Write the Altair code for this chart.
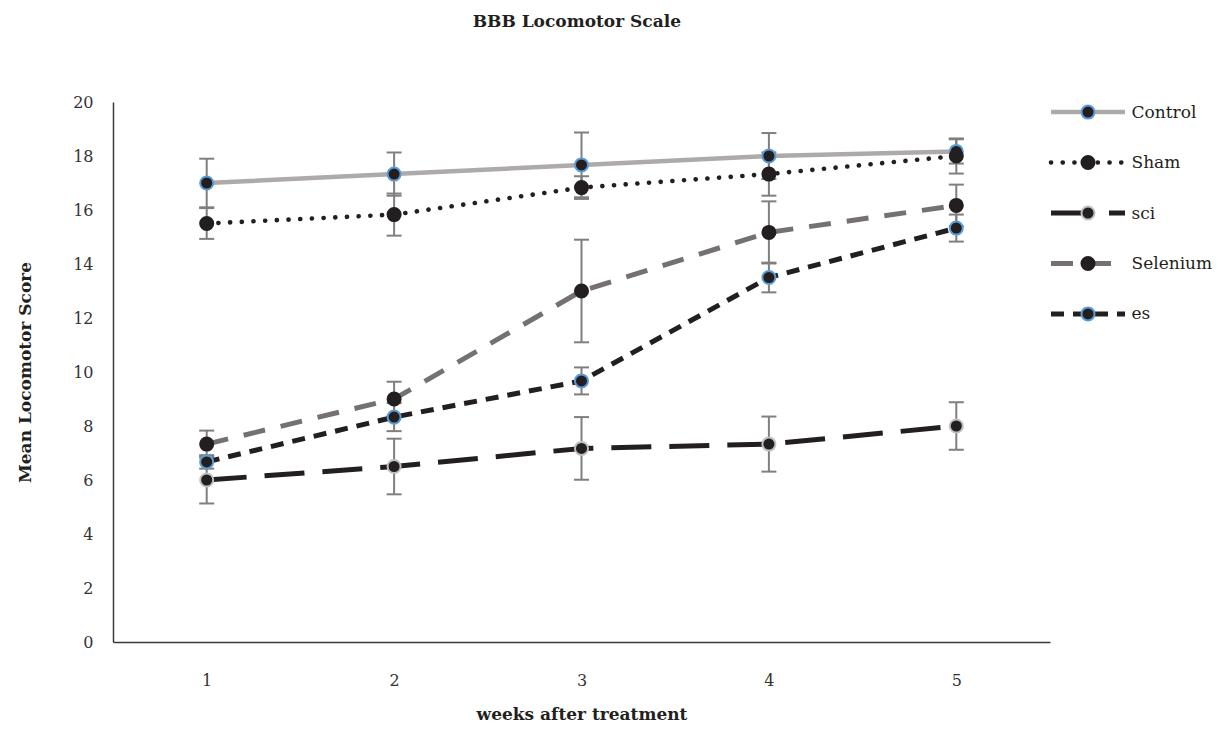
import altair as alt
import pandas as pd

# ---- data ----
weeks = [1, 2, 3, 4, 5]
series_names = ["Control", "Sham", "sci", "Selenium", "es"]

control = [17.0, 17.33, 17.67, 18.0, 18.17]
control_err = [0.9, 0.8, 1.2, 0.85, 0.45]
sham = [15.5, 15.83, 16.83, 17.33, 18.0]
sham_err = [0.57, 0.78, 0.42, 0.8, 0.65]
sci = [6.0, 6.5, 7.17, 7.33, 8.0]
sci_err = [0.87, 1.03, 1.16, 1.02, 0.88]
selenium = [7.33, 9.0, 13.0, 15.17, 16.17]
selenium_err = [0.5, 0.64, 1.9, 1.15, 0.77]
es = [6.67, 8.33, 9.67, 13.5, 15.33]
es_err = [0.25, 0.52, 0.5, 0.55, 0.5]

y_ticks = [0, 2, 4, 6, 8, 10, 12, 14, 16, 18, 20]
legend_line_x = [0, 2]
legend_marker_x = [1]

all_vals = [control, sham, sci, selenium, es]
all_errs = [control_err, sham_err, sci_err, selenium_err, es_err]

rows = []
for name, vals, errs in zip(series_names, all_vals, all_errs):
    for w, v, e in zip(weeks, vals, errs):
        rows.append({"series": name, "week": w, "value": v, "err": e})
df = pd.DataFrame(rows)

leg_rows = []
for name in series_names:
    for lx in legend_line_x:
        leg_rows.append({"series": name, "lx": lx, "kind": "line"})
    for lx in legend_marker_x:
        leg_rows.append({"series": name, "lx": lx, "kind": "marker"})
ldf = pd.DataFrame(leg_rows)

# ---- styles ----
DARK = "#231f20"
styles = {
    "Control": dict(color="#aeaaaa", dash=None, width=4.5, cap="butt", ring="#5b9bd5"),
    "Sham": dict(color=DARK, dash=[0.1, 11.6], width=4.6, cap="round", ring=DARK),
    "sci": dict(color=DARK, dash=[40, 18], width=5, cap="butt", ring="#bfbfbf"),
    "Selenium": dict(color="#767171", dash=[22, 16], width=5, cap="butt", ring=DARK),
    "es": dict(color=DARK, dash=[13, 9], width=5, cap="butt", ring="#5b9bd5"),
}
FONT = "DejaVu Serif"
YTITLE = "Mean Locomotor Score"

x_enc = alt.X(
    "week:O",
    scale=alt.Scale(type="point", padding=0.5),
    axis=alt.Axis(
        title="weeks after treatment", labelAngle=0, ticks=False, tickSize=0,
        labelPadding=30, titlePadding=18, domainColor="#3a3a3a", domainWidth=1.5,
        labelFont=FONT, labelFontSize=16, labelColor="#333333",
        titleFont=FONT, titleFontSize=17, titleFontWeight="bold", titleColor=DARK,
    ),
)


def y_enc(field):
    return alt.Y(
        field,
        scale=alt.Scale(domain=[0, 20]),
        title=YTITLE,
        axis=alt.Axis(
            values=y_ticks, grid=False, ticks=False, tickSize=0, labelPadding=20,
            titlePadding=38, domainColor="#3a3a3a", domainWidth=1.5,
            labelFont=FONT, labelFontSize=16, labelColor="#333333",
            titleFont=FONT, titleFontSize=17, titleFontWeight="bold", titleColor=DARK,
        ),
    )


leg_x = alt.X("lx:Q", scale=alt.Scale(domain=[0, 2]), axis=None)


def leg_y():
    return alt.Y(
        "series:N",
        scale=alt.Scale(domain=series_names, type="point", padding=0.2),
        axis=alt.Axis(
            orient="right", title=None, domain=False, ticks=False, tickSize=0,
            labelPadding=6, labelFont=FONT, labelFontSize=17, labelColor=DARK,
        ),
    )


base = alt.Chart(df)
eb = base.transform_calculate(lo="datum.value - datum.err", hi="datum.value + datum.err")
err_rule = eb.mark_rule(color="#7f7f7f", strokeWidth=2).encode(
    x=x_enc, y=y_enc("lo:Q"), y2="hi:Q"
)
cap_lo = eb.mark_tick(color="#7f7f7f", thickness=2, size=15, opacity=1).encode(
    x=x_enc, y=y_enc("lo:Q")
)
cap_hi = eb.mark_tick(color="#7f7f7f", thickness=2, size=15, opacity=1).encode(
    x=x_enc, y=y_enc("hi:Q")
)

line_layers = []
leg_line_layers = []
for name in series_names:
    st = styles[name]
    kw = dict(color=st["color"], strokeWidth=st["width"], strokeCap=st["cap"])
    if st["dash"] is not None:
        kw["strokeDash"] = st["dash"]
    line_layers.append(
        base.transform_filter(alt.datum.series == name)
        .mark_line(**kw)
        .encode(x=x_enc, y=y_enc("value:Q"))
    )
    leg_line_layers.append(
        alt.Chart(ldf)
        .transform_filter((alt.datum.series == name) & (alt.datum.kind == "line"))
        .mark_line(**kw)
        .encode(x=leg_x, y=leg_y())
    )

ring_scale = alt.Scale(domain=series_names, range=[styles[n]["ring"] for n in series_names])
points = base.mark_circle(fill=DARK, fillOpacity=1, opacity=1, strokeWidth=2, size=170).encode(
    x=x_enc, y=y_enc("value:Q"), stroke=alt.Stroke("series:N", scale=ring_scale, legend=None)
)

main = alt.layer(err_rule, cap_lo, cap_hi, *line_layers, points).properties(width=937, height=540)

leg_points = (
    alt.Chart(ldf)
    .transform_filter(alt.datum.kind == "marker")
    .mark_circle(fill=DARK, fillOpacity=1, opacity=1, strokeWidth=2, size=170)
    .encode(
        x=leg_x,
        y=leg_y(),
        stroke=alt.Stroke("series:N", scale=ring_scale, legend=None),
    )
)
legend = alt.layer(*leg_line_layers, leg_points).properties(width=74, height=222)

chart = (
    alt.hconcat(main, legend, spacing=-9)
    .properties(
        title=alt.TitleParams(
            "BBB Locomotor Scale", anchor="start", dx=456, offset=63,
            font=FONT, fontSize=17, fontWeight="bold", color=DARK,
        ),
        padding={"left": 8, "top": 5, "right": 0, "bottom": 0},
    )
    .configure_view(stroke=None)
    .resolve_scale(stroke="shared")
)

chart.save("out.html", embed_options={"renderer": "svg", "actions": False})
